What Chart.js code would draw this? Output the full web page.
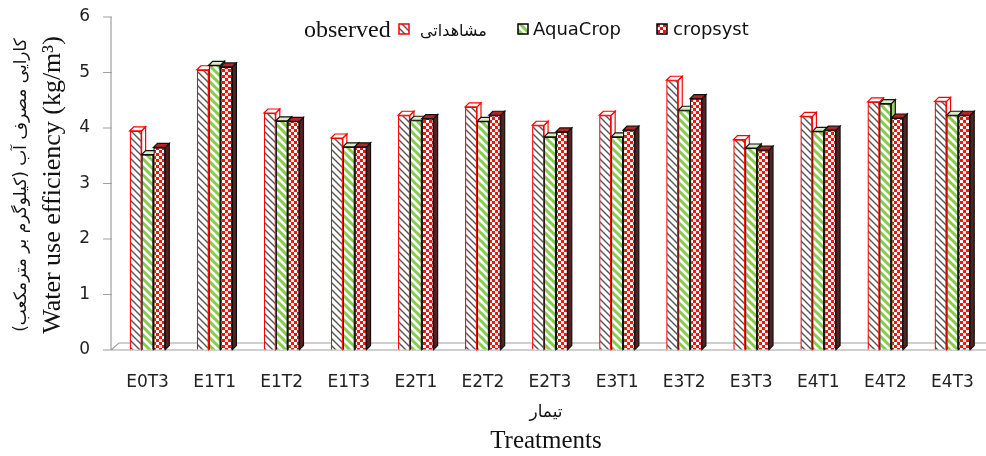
<!DOCTYPE html>
<html>
<head>
<meta charset="utf-8">
<script src="https://cdn.jsdelivr.net/npm/chart.js@4.4.1/dist/chart.umd.min.js"></script>
<style>
  html, body { margin: 0; padding: 0; background: #fff; }
  #wrap { width: 986px; height: 456px; }
</style>
</head>
<body>
<div id="wrap"><canvas id="wueChart"></canvas></div>
<script>
// chart data
const categories = ['E0T3', 'E1T1', 'E1T2', 'E1T3', 'E2T1', 'E2T2', 'E2T3', 'E3T1', 'E3T2', 'E3T3', 'E4T1', 'E4T2', 'E4T3'];
const observed = [3.95, 5.05, 4.27, 3.82, 4.23, 4.38, 4.05, 4.23, 4.86, 3.79, 4.21, 4.47, 4.48];
const aquaCrop = [3.52, 5.13, 4.13, 3.66, 4.14, 4.12, 3.84, 3.84, 4.32, 3.64, 3.94, 4.44, 4.23];
const cropsyst = [3.65, 5.10, 4.12, 3.66, 4.17, 4.23, 3.93, 3.96, 4.53, 3.60, 3.96, 4.18, 4.23];
const yTicks = [0, 1, 2, 3, 4, 5, 6];

// fill patterns
const makeTile = (size, draw) => {
    const c = document.createElement('canvas');
    c.width = c.height = size;
    draw(c.getContext('2d'), size);
    return c;
};

const stripeTile = (bg, fg, lw, size) => makeTile(size, (x, s) => {
    x.fillStyle = bg;
    x.fillRect(0, 0, s, s);
    x.strokeStyle = fg;
    x.lineWidth = lw;
    x.beginPath();
    x.moveTo(0, 0); x.lineTo(s, s);
    x.moveTo(-2, s - 2); x.lineTo(2, s + 2);
    x.moveTo(s - 2, -2); x.lineTo(s + 2, 2);
    x.stroke();
});

const checkTile = makeTile(6, (x, s) => {
    x.fillStyle = '#ff1010';
    x.fillRect(0, 0, s, s);
    x.fillStyle = '#ffffff';
    x.fillRect(0, 0, 3, 3);
    x.fillRect(3, 3, 3, 3);
});

const ctx = document.getElementById('wueChart').getContext('2d');
const obsFill = ctx.createPattern(stripeTile('#ffffff', '#555555', 1.4, 7), 'repeat');
const aquaFill = ctx.createPattern(stripeTile('#ffffff', '#86cc4c', 3, 8), 'repeat');
const cropFill = ctx.createPattern(checkTile, 'repeat');

const depth = 4;

// redraw each group left to right with a top cap and side face (excel 3d look)
const bars3d = {
    id: 'bars3d',
    afterDatasetsDraw(chart) {
        const c = chart.ctx;
        const n = chart.data.labels.length;
        c.save();
        for (let i = 0; i < n; i++) {
            chart.data.datasets.forEach((ds, j) => {
                const bar = chart.getDatasetMeta(j).data[i];
                bar.draw(c);
                const l = bar.x - bar.width / 2;
                const r = bar.x + bar.width / 2;
                const t = bar.y;
                const b = bar.base;
                c.lineWidth = 1.2;
                c.strokeStyle = ds.borderColor;
                // side
                c.fillStyle = ds.sideColor;
                c.beginPath();
                c.moveTo(r, t); c.lineTo(r + depth, t - depth);
                c.lineTo(r + depth, b - depth); c.lineTo(r, b);
                c.closePath(); c.fill(); c.stroke();
                // top
                c.fillStyle = ds.capColor;
                c.beginPath();
                c.moveTo(l, t); c.lineTo(l + depth, t - depth);
                c.lineTo(r + depth, t - depth); c.lineTo(r, t);
                c.closePath(); c.fill(); c.stroke();
            });
        }
        c.restore();
    }
};

// y axis, floor, legend and axis titles
const extras = {
    id: 'extras',
    beforeDatasetsDraw(chart) {
        const c = chart.ctx;
        const a = chart.chartArea;
        const ys = chart.scales.y;
        const ax = a.left - 3;
        c.save();
        c.strokeStyle = '#a0a0a0';
        c.lineWidth = 1.2;
        c.beginPath();
        c.moveTo(ax, a.top); c.lineTo(ax, a.bottom);
        yTicks.forEach(v => {
            const py = ys.getPixelForValue(v);
            c.moveTo(ax - 8, py); c.lineTo(ax + 1, py);
        });
        c.moveTo(ax, a.bottom); c.lineTo(chart.width, a.bottom);
        c.moveTo(ax, a.bottom); c.lineTo(ax + 8, a.bottom - 7);
        c.lineTo(chart.width, a.bottom - 7);
        c.stroke();
        c.restore();
    },
    afterDraw(chart) {
        const c = chart.ctx;
        const a = chart.chartArea;
        c.save();
        c.fillStyle = '#111';
        c.textBaseline = 'middle';

        // legend
        const ly = 30;
        c.font = '24px "Liberation Serif"';
        c.textAlign = 'left';
        c.fillText('observed', 304, ly + 1);
        const box = (x, fill, stroke) => {
            c.fillStyle = fill;
            c.fillRect(x, ly - 6, 10, 10);
            c.strokeStyle = stroke;
            c.lineWidth = 1.5;
            c.strokeRect(x, ly - 6, 10, 10);
            c.fillStyle = '#111';
        };
        box(399, obsFill, '#ff0000');
        c.font = '16px "DejaVu Sans"';
        c.fillText('مشاهداتی', 420, ly + 2);
        box(518, aquaFill, '#000000');
        c.font = '18px "DejaVu Sans"';
        c.fillText('AquaCrop', 533, ly);
        box(657, cropFill, '#000000');
        c.fillText('cropsyst', 673, ly);

        // x title
        const cx = (a.left + a.right) / 2 - 4;
        c.textAlign = 'center';
        c.font = '17px "DejaVu Sans"';
        c.fillText('تیمار', cx, 413);
        c.font = '25px "Liberation Serif"';
        c.fillText('Treatments', cx, 441);

        // y title
        c.translate(0, 185);
        c.rotate(-Math.PI / 2);
        c.font = '17px "DejaVu Sans"';
        c.fillText('کارایی مصرف آب (کیلوگرم بر مترمکعب)', 0, 22);
        c.font = '26px "Liberation Serif"';
        c.fillText('Water use efficiency (kg/m³)', 0, 53);
        c.restore();
    }
};

new Chart(ctx, {
    type: 'bar',
    data: {
        labels: categories,
        datasets: [
            { label: 'observed', data: observed, backgroundColor: obsFill, borderColor: '#ff0000',
              capColor: '#ffffff', sideColor: '#ffffff', borderWidth: 1.2 },
            { label: 'AquaCrop', data: aquaCrop, backgroundColor: aquaFill, borderColor: '#111111',
              capColor: '#d8eec4', sideColor: '#9ad36a', borderWidth: 1.2 },
            { label: 'cropsyst', data: cropsyst, backgroundColor: cropFill, borderColor: '#111111',
              capColor: '#bb2222', sideColor: '#552222', borderWidth: 1.2 }
        ]
    },
    options: {
        responsive: true,
        maintainAspectRatio: false,
        animation: false,
        layout: { padding: { top: 17, right: 0, left: 0, bottom: 0 } },
        datasets: {
            bar: { categoryPercentage: 0.53, barPercentage: 1 }
        },
        plugins: {
            legend: { display: false },
            tooltip: { enabled: false }
        },
        scales: {
            x: {
                grid: { display: false },
                border: { display: false },
                ticks: { color: '#222', font: { family: 'DejaVu Sans', size: 17 }, padding: 14, maxRotation: 0 },
                afterFit(scale) {
                    scale.height = 106;
                    scale.paddingLeft = 0;
                    scale.paddingRight = 0;
                }
            },
            y: {
                min: 0,
                max: 6,
                afterBuildTicks(scale) { scale.ticks = yTicks.map(v => ({ value: v })); },
                grid: { drawOnChartArea: false, color: 'rgba(0,0,0,0)', tickLength: 8 },
                border: { display: false },
                ticks: { color: '#222', font: { family: 'DejaVu Sans', size: 17 }, padding: 16 },
                afterFit(scale) {
                    scale.width = 114;
                    scale.paddingTop = 0;
                    scale.paddingBottom = 0;
                }
            }
        }
    },
    plugins: [extras, bars3d]
});
</script>
</body>
</html>
